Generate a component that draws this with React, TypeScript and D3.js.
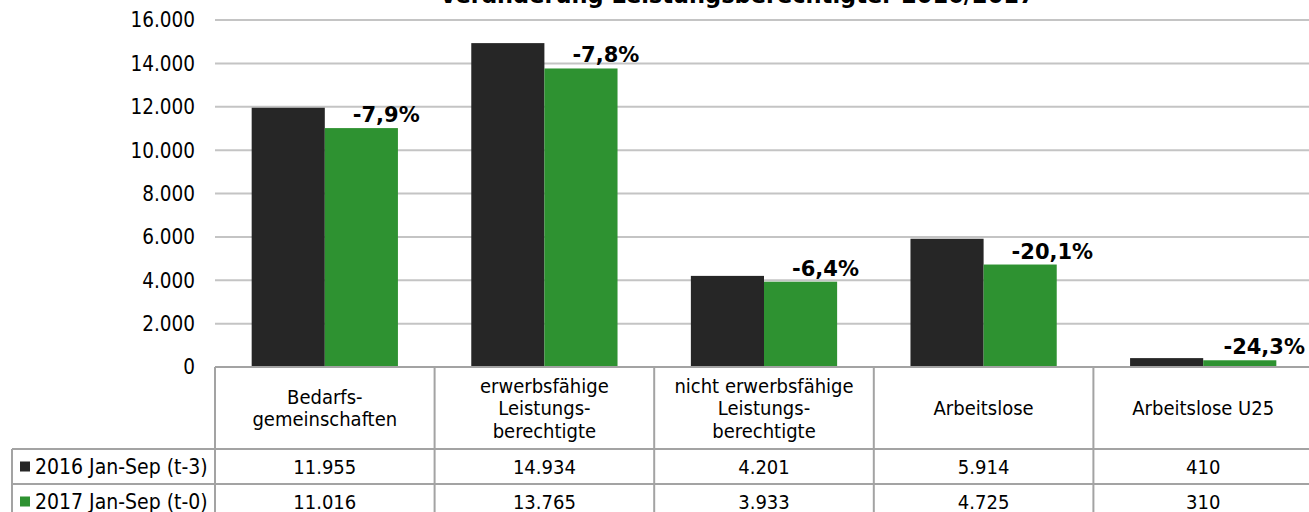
import React from "react";
import * as d3 from "d3";

const categories: string[][] = [
  ["Bedarfs-", "gemeinschaften"],
  ["erwerbsfähige", "Leistungs-", "berechtigte"],
  ["nicht erwerbsfähige", "Leistungs-", "berechtigte"],
  ["Arbeitslose"],
  ["Arbeitslose U25"],
];
const categoryKeys = ["BG", "eLb", "neLb", "AL", "ALU25"];
const series2016 = [11955, 14934, 4201, 5914, 410];
const series2017 = [11016, 13765, 3933, 4725, 310];
const labels2016 = ["11.955", "14.934", "4.201", "5.914", "410"];
const labels2017 = ["11.016", "13.765", "3.933", "4.725", "310"];
const changeLabels = ["-7,9%", "-7,8%", "-6,4%", "-20,1%", "-24,3%"];
const seriesNames = ["2016 Jan-Sep (t-3)", "2017 Jan-Sep (t-0)"];
const yTicks = [0, 2000, 4000, 6000, 8000, 10000, 12000, 14000, 16000];
const title = "Veränderung Leistungsberechtigter 2016/2017";

const W = 1309;
const H = 512;
const plotLeft = 215;
const plotRight = 1313;
const plotTop = 20;
const plotBottom = 367;
const headerBottom = 449;
const row1Bottom = 484;
const row2Bottom = 519;
const legendLeft = 12;

const colors = ["#262626", "#2e9231"];
const gridColor = "#c4c4c4";
const borderColor = "#a3a3a3";
const font = "'DejaVu Sans Condensed', 'DejaVu Sans', sans-serif";
const boldFont = "'DejaVu Sans', sans-serif";

const fmt = (v: number) =>
  v === 0 ? "0" : d3.format(",")(v).replace(/,/g, ".");

export default function App() {
  const x = d3.scaleBand<string>().domain(categoryKeys).range([plotLeft, plotRight]).padding(0);
  const y = d3.scaleLinear().domain([0, 16000]).range([plotBottom, plotTop]);
  const bw = x.bandwidth();
  const barW = bw * 0.333;
  const groupOff = (bw - 2 * barW) / 2;

  const rowsY = [
    [headerBottom, row1Bottom],
    [row1Bottom, row2Bottom],
  ];
  const rowLabels = [labels2016, labels2017];

  return (
    <svg
      width={W}
      height={H}
      style={{ position: "absolute", left: 0, top: 0, display: "block" }}
    >
      <rect x={0} y={0} width={W} height={H} fill="#ffffff" />
      <text
        x={737}
        y={3}
        textAnchor="middle"
        fontFamily={boldFont}
        fontWeight="bold"
        fontSize={22.5}
        fill="#000"
      >
        {title}
      </text>
      {/* gridlines */}
      {yTicks.filter((t) => t > 0).map((t) => (
        <line
          key={t}
          x1={plotLeft}
          x2={W}
          y1={y(t)}
          y2={y(t)}
          stroke={gridColor}
          strokeWidth={2}
        />
      ))}
      {/* tick labels */}
      {yTicks.map((t) => (
        <text
          key={"l" + t}
          x={195}
          y={y(t)}
          dy="0.36em"
          textAnchor="end"
          fontFamily={font}
          fontSize={20.5}
          fill="#000"
        >
          {fmt(t)}
        </text>
      ))}
      {/* bars */}
      {categoryKeys.map((k, i) => {
        const x0 = (x(k) as number) + groupOff;
        const lx = x0 + barW + 28;
        const tooFar = lx + 80 > W;
        return (
          <g key={k}>
            <rect
              x={x0}
              y={y(series2016[i])}
              width={barW}
              height={y(0) - y(series2016[i])}
              fill={colors[0]}
            />
            <rect
              x={x0 + barW}
              y={y(series2017[i])}
              width={barW}
              height={y(0) - y(series2017[i])}
              fill={colors[1]}
            />
            <text
              x={tooFar ? W - 4 : lx}
              y={y(series2017[i]) - 6}
              textAnchor={tooFar ? "end" : "start"}
              fontFamily={boldFont}
              fontWeight="bold"
              fontSize={21}
              fill="#000"
            >
              {changeLabels[i]}
            </text>
          </g>
        );
      })}
      {/* table */}
      <g stroke={borderColor} strokeWidth={2}>
        <line x1={plotLeft} x2={W} y1={plotBottom} y2={plotBottom} />
        <line x1={legendLeft} x2={W} y1={headerBottom} y2={headerBottom} />
        <line x1={legendLeft} x2={W} y1={row1Bottom} y2={row1Bottom} />
        <line x1={legendLeft} x2={W} y1={row2Bottom} y2={row2Bottom} />
        <line x1={legendLeft} x2={legendLeft} y1={headerBottom} y2={H + 10} />
        {categoryKeys.map((k) => (
          <line
            key={"v" + k}
            x1={x(k) as number}
            x2={x(k) as number}
            y1={plotBottom}
            y2={H + 10}
          />
        ))}
      </g>
      {/* header texts */}
      {categoryKeys.map((k, i) => {
        const lines = categories[i];
        const cx = (x(k) as number) + bw / 2;
        const cy = (plotBottom + headerBottom) / 2;
        const lh = 22.5;
        const first = cy + 7 - ((lines.length - 1) * lh) / 2;
        return (
          <text
            key={"h" + k}
            textAnchor="middle"
            fontFamily={font}
            fontSize={20}
            fill="#000"
          >
            {lines.map((ln, j) => (
              <tspan key={j} x={cx} y={first + j * lh}>
                {ln}
              </tspan>
            ))}
          </text>
        );
      })}
      {/* data rows */}
      {rowsY.map(([t, b], r) => (
        <g key={"r" + r}>
          <rect
            x={20}
            y={(t + b) / 2 - 5}
            width={10}
            height={10}
            fill={colors[r]}
          />
          <text
            x={35}
            y={(t + b) / 2 + 7}
            fontFamily={font}
            fontSize={21}
            fill="#000"
          >
            {seriesNames[r]}
          </text>
          {categoryKeys.map((k, i) => (
            <text
              key={k}
              x={(x(k) as number) + bw / 2}
              y={(t + b) / 2 + 7}
              textAnchor="middle"
              fontFamily={font}
              fontSize={20}
              fill="#000"
            >
              {rowLabels[r][i]}
            </text>
          ))}
        </g>
      ))}
    </svg>
  );
}
